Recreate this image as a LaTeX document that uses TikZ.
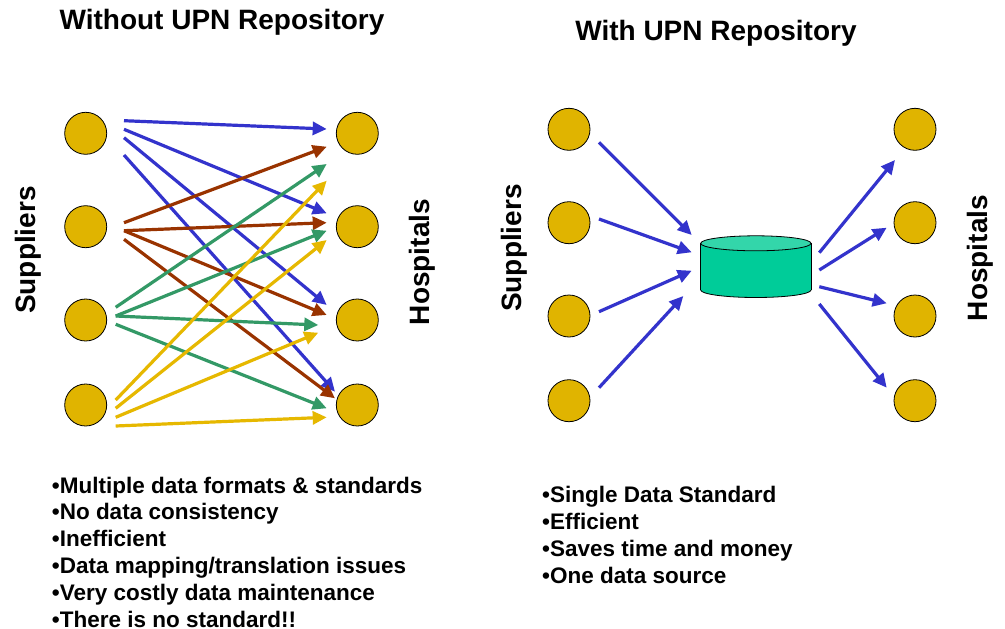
\documentclass[tikz,border=0pt]{standalone}
\usepackage{fontspec}
\setmainfont{Liberation Sans}
\usetikzlibrary{arrows.meta}
\definecolor{gold}{RGB}{224,180,0}
\definecolor{arrblue}{RGB}{51,51,204}
\definecolor{arrbrown}{RGB}{153,51,0}
\definecolor{arrgreen}{RGB}{51,153,102}
\definecolor{arryellow}{RGB}{230,184,0}
\definecolor{cylbody}{RGB}{0,204,153}
\definecolor{cyltop}{RGB}{51,214,170}
\tikzset{
  dot/.style={circle, fill=gold, draw=black, line width=0.8pt, minimum size=42pt, inner sep=0pt},
  arr/.style={line width=3.2pt, -{Triangle[length=14pt,width=13pt]}},
  title/.style={font=\fontsize{28}{33}\selectfont\bfseries, inner sep=0pt, anchor=base},
  side/.style={font=\fontsize{28}{33}\selectfont\bfseries, inner sep=0pt, anchor=base, rotate=90},
  item/.style={font=\fontsize{22.5}{27}\selectfont\bfseries, inner sep=0pt, anchor=base west},
}
\begin{document}
\begin{tikzpicture}[x=1pt, y=-1pt]
\useasboundingbox (0,0) rectangle (1005,629);
\fill[white] (0,0) rectangle (1005,629);

% titles
\node[title] (t1) at (222,29) {Without UPN Repository};
\node[title] (t2) at (716,40.7) {With UPN Repository};

% side labels
\node[side] (sup1) at (35.5,250) {Suppliers};
\node[side] (hos1) at (429,262) {Hospitals};
\node[side] (sup2) at (521,248) {Suppliers};
\node[side] (hos2) at (987,258) {Hospitals};

% left circles
\node[dot] (S1) at (85.7,133.3) {};
\node[dot] (S2) at (85.7,226.7) {};
\node[dot] (S3) at (85.7,320) {};
\node[dot] (S4) at (85.7,405) {};
\node[dot] (H1) at (357.3,133.3) {};
\node[dot] (H2) at (357.3,226.7) {};
\node[dot] (H3) at (357.3,320) {};
\node[dot] (H4) at (357.3,405) {};

% right circles
\node[dot] (T1) at (569,129.3) {};
\node[dot] (T2) at (569,222.7) {};
\node[dot] (T3) at (569,316) {};
\node[dot] (T4) at (569,400.7) {};
\node[dot] (U1) at (915,129.3) {};
\node[dot] (U2) at (915,222.7) {};
\node[dot] (U3) at (915,316) {};
\node[dot] (U4) at (915,400.7) {};

% arrow end points (left panel)
\foreach \n/\x/\y in {
  ba1/124/120.7, bz1/326.7/129,
  ba2/124/129.3, bz2/326.7/213.3,
  ba3/124/137.7, bz3/326.7/305,
  ba4/124/155,   bz4/335/391.7,
  ra1/124/222.7, rz1/326.7/146.7,
  ra2/124/230.7, rz2/326.7/222.7,
  ra3/124/230.7, rz3/326.7/315,
  ra4/124/239.3, rz4/335/398.3,
  ga1/115.7/307.3, gz1/326.7/164,
  ga2/115.7/316,   gz2/326.7/230.7,
  ga3/115.7/316,   gz3/318.3/325,
  ga4/115.7/324.3, gz4/326.7/408.3,
  ya1/115.7/400,   yz1/326.7/180.7,
  ya2/115.7/408.3, yz2/326.7/240,
  ya3/115.7/417.3, yz3/318.3/332.7,
  ya4/115.7/426,   yz4/326.7/417.3}
  \coordinate (\n) at (\x,\y);

\foreach \i in {1,...,4} \draw[arr, arrblue] (ba\i) -- (bz\i);
\foreach \i in {1,...,4} \draw[arr, arrbrown] (ra\i) -- (rz\i);
\foreach \i in {1,...,4} \draw[arr, arrgreen] (ga\i) -- (gz\i);
\foreach \i in {1,...,4} \draw[arr, arryellow] (ya\i) -- (yz\i);

% cylinder (repository)
\coordinate (db) at (755.85,266.6);
\filldraw[fill=cylbody, draw=black, line width=0.8pt] (755.85,290) ellipse [x radius=55.15, y radius=7.5];
\fill[cylbody] (700.7,243.3) rectangle (811,290);
\draw[line width=0.8pt] (700.7,243.3) -- (700.7,290) (811,243.3) -- (811,290);
\filldraw[fill=cyltop, draw=black, line width=0.8pt] (755.85,243.3) ellipse [x radius=55.15, y radius=7.5];

% arrow end points (right panel)
\foreach \n/\x/\y in {
  ia1/599/142.3, iz1/691.7/235,
  ia2/599/219,   iz2/691.7/252.3,
  ia3/599/311.7, iz3/691.7/270.7,
  ia4/599/387.7, iz4/683.3/296,
  oa1/819.3/252.7, oz1/895/160,
  oa2/819.3/270,   oz2/886.7/227.7,
  oa3/819.3/286.7, oz3/886.7/303.3,
  oa4/819.3/304,   oz4/886.7/387.7}
  \coordinate (\n) at (\x,\y);
\foreach \i in {1,...,4} \draw[arr, arrblue] (ia\i) -- (iz\i);
\foreach \i in {1,...,4} \draw[arr, arrblue] (oa\i) -- (oz\i);

% bullet lists
\node[item] (l1) at (51.7,493) {•Multiple data formats \& standards};
\node[item] (l2) at (51.7,519.8) {•No data consistency};
\node[item] (l3) at (51.7,546.6) {•Inefficient};
\node[item] (l4) at (51.7,573.4) {•Data mapping/translation issues};
\node[item] (l5) at (51.7,600.2) {•Very costly data maintenance};
\node[item] (l6) at (51.7,627) {•There is no standard!!};

\node[item] (r1) at (542,502) {•Single Data Standard};
\node[item] (r2) at (542,529) {•Efficient};
\node[item] (r3) at (542,556) {•Saves time and money};
\node[item] (r4) at (542,583) {•One data source};
\end{tikzpicture}
\end{document}
